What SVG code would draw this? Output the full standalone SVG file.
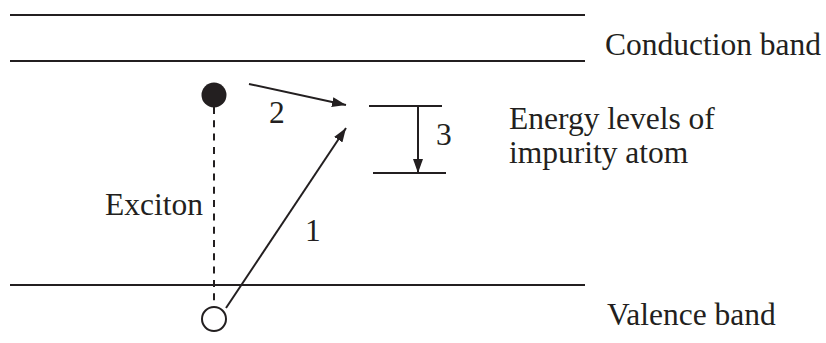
<svg xmlns="http://www.w3.org/2000/svg" width="826" height="343" viewBox="0 0 826 343">
<style>
.ln{stroke:#231f20;stroke-width:2;fill:none}
.t{font-family:"Liberation Serif",serif;font-size:31.5px;fill:#231f20}
</style>
<defs>
<marker id="ah" viewBox="0 0 14 10" refX="14" refY="5" markerWidth="14" markerHeight="10" markerUnits="userSpaceOnUse" orient="auto">
<path d="M0,0 L14,5 L0,10 Z" fill="#231f20"/>
</marker>
</defs>
<rect width="826" height="343" fill="#fff"/>
<g id="bands">
<line class="ln" x1="10" y1="15" x2="585" y2="15"/>
<line class="ln" x1="10" y1="61" x2="585" y2="61"/>
<line class="ln" x1="10" y1="285" x2="585" y2="285"/>
</g>
<g id="levels">
<line class="ln" x1="369" y1="106" x2="442" y2="106"/>
<line class="ln" x1="373" y1="173" x2="446" y2="173"/>
</g>
<g id="electron"><circle cx="214" cy="95" r="12.5" fill="#231f20"/></g>
<g id="hole"><circle cx="214" cy="319" r="12" fill="#fff" stroke="#231f20" stroke-width="2"/></g>
<g id="connectors">
<line class="ln" x1="214" y1="107" x2="214" y2="306" stroke-dasharray="7,6.3"/>
<line class="ln" x1="249" y1="84" x2="346" y2="105" marker-end="url(#ah)"/>
<line class="ln" x1="226" y1="308" x2="346" y2="128" marker-end="url(#ah)"/>
<line class="ln" x1="418" y1="106" x2="418" y2="173" marker-end="url(#ah)"/>
</g>
<g id="labels">
<text class="t" x="605" y="55">Conduction band</text>
<text class="t" x="509" y="129">Energy levels of</text>
<text class="t" x="509" y="163">impurity atom</text>
<text class="t" x="607" y="325">Valence band</text>
<text class="t" x="105" y="215">Exciton</text>
<text class="t" x="269" y="123">2</text>
<text class="t" x="305" y="241">1</text>
<text class="t" x="436" y="145">3</text>
</g>
</svg>
